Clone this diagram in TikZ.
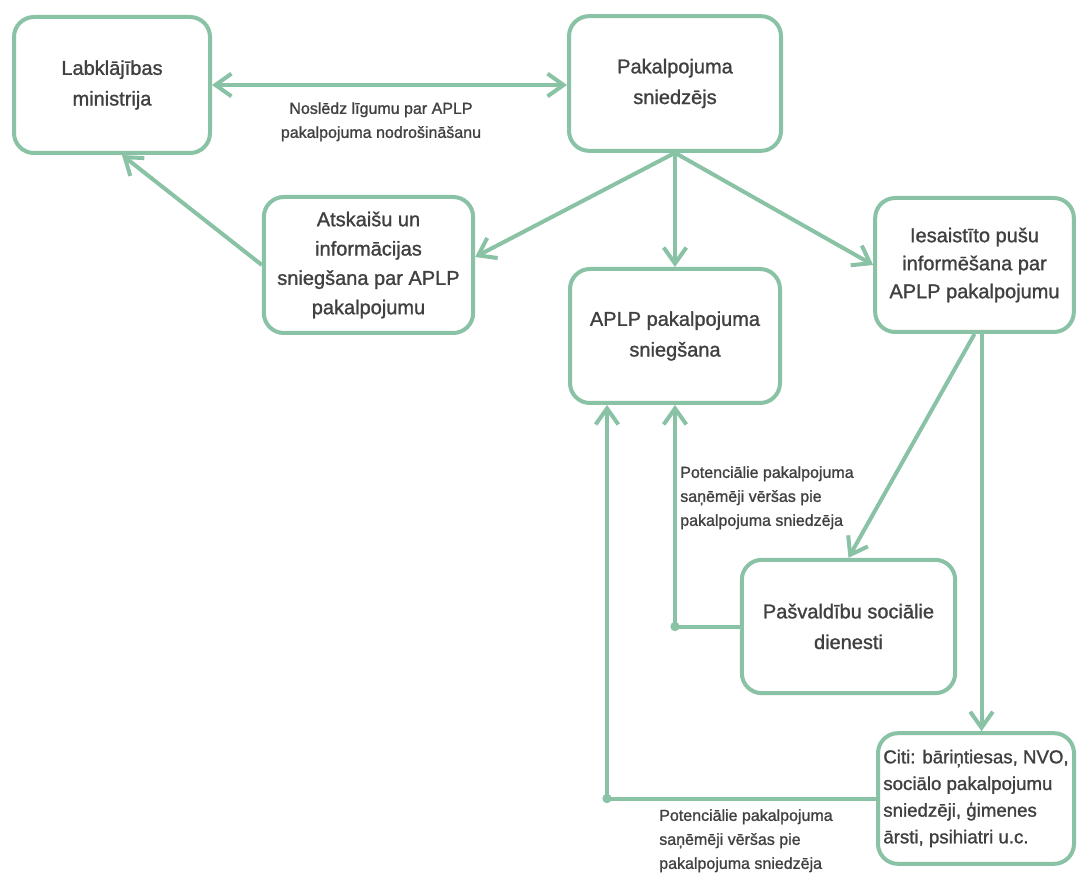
\documentclass[tikz,border=0pt]{standalone}
\usepackage{fontspec}
\setmainfont{Liberation Sans}
\newfontface\medface{Liberation Sans}[FakeBold=1.2]
\usetikzlibrary{arrows.meta,positioning,calc}
\definecolor{boxgreen}{RGB}{137,194,164}
\definecolor{txtgray}{RGB}{64,64,64}
\tikzset{
procbox/.style={draw=boxgreen, line width=3pt, rounded corners=15pt, fill=white, align=center, text=txtgray, font=\medface\fontsize{15}{23}\selectfont, inner sep=2pt},
conn/.style={draw=boxgreen, line width=3pt},
flowlbl/.style={text=txtgray, font=\medface\fontsize{12}{18}\selectfont, inner sep=0pt, align=left},
joint/.style={circle, fill=boxgreen, inner sep=0pt, minimum size=7pt},
>={Straight Barb[length=12pt,width=17pt]}
}
\begin{document}
\begin{tikzpicture}[x=0.75pt,y=0.75pt,yscale=-1,xscale=1]
\useasboundingbox (0,0) rectangle (1078,873);

% Boxes
\node[procbox, minimum width=147pt, minimum height=102pt] (lm) at (112,85) {Labklājības\\ministrija};
\node[procbox, minimum width=159pt, minimum height=101pt] (ps) at (675,83.5) {Pakalpojuma\\sniedzējs};
\node[procbox, minimum width=157pt, minimum height=102pt, font=\medface\fontsize{15}{22}\selectfont] (ats) at (368.5,265) {Atskaišu un\\informācijas\\sniegšana par APLP\\pakalpojumu};
\node[procbox, minimum width=157.5pt, minimum height=100.5pt] (aplp) at (675,336) {APLP pakalpojuma\\sniegšana};
\node[procbox, minimum width=149pt, minimum height=100.5pt, font=\medface\fontsize{15}{21}\selectfont] (ies) at (974.5,265) {Iesaistīto pušu\\informēšana par\\APLP pakalpojumu};
\node[procbox, minimum width=160pt, minimum height=100pt] (pas) at (848.5,626.5) {Pašvaldību sociālie\\dienesti};
\node[procbox, minimum width=147pt, minimum height=98pt, align=left, font=\medface\fontsize{14}{20}\selectfont] (citi) at (976,798.5) {Citi: bāriņtiesas, NVO,\\sociālo pakalpojumu\\sniedzēji, ģimenes\\ārsti, psihiatri u.c.};

% Joints
\coordinate (j1) at (aplp.south |- pas.west);
\coordinate (j2) at ($(aplp.south)+(-68,0)$);
\coordinate (j2b) at (j2 |- citi.west);
\coordinate (split) at ($(ies.south)+(7,0)$);

% Connectors
\draw[conn,<->] (lm.east) -- (lm.east -| ps.west);
\draw[conn,->] (ps.south) -- ($(ats.east)+(0,-8)$);
\draw[conn,->] (ps.south) -- (aplp.north);
\draw[conn,->] (ps.south) -- (ies.west);
\draw[conn,->] (ats.west) -- ($(lm.south)+(10,0)$);
\draw[conn,->] (ies.south) -- (pas.north);
\draw[conn,->] (split) -- (split |- citi.north);
\draw[conn,->] (pas.west) -- (j1) -- (aplp.south);
\draw[conn,->] (citi.west) -- (j2b) -- (j2);
\node[joint] (dot1) at (j1) {};
\node[joint] (dot2) at (j2b) {};

% Text Node
\node[flowlbl, align=center, anchor=north] (lblcontract) at (381,102) {Noslēdz līgumu par APLP\\pakalpojuma nodrošināšanu};
% Text Node
\node[flowlbl, anchor=north west] (lblpas) at (680,466) {Potenciālie pakalpojuma\\saņēmēji vēršas pie\\pakalpojuma sniedzēja};
% Text Node
\node[flowlbl, anchor=north west] (lblciti) at (659,809) {Potenciālie pakalpojuma\\saņēmēji vēršas pie\\pakalpojuma sniedzēja};
\end{tikzpicture}
\end{document}
